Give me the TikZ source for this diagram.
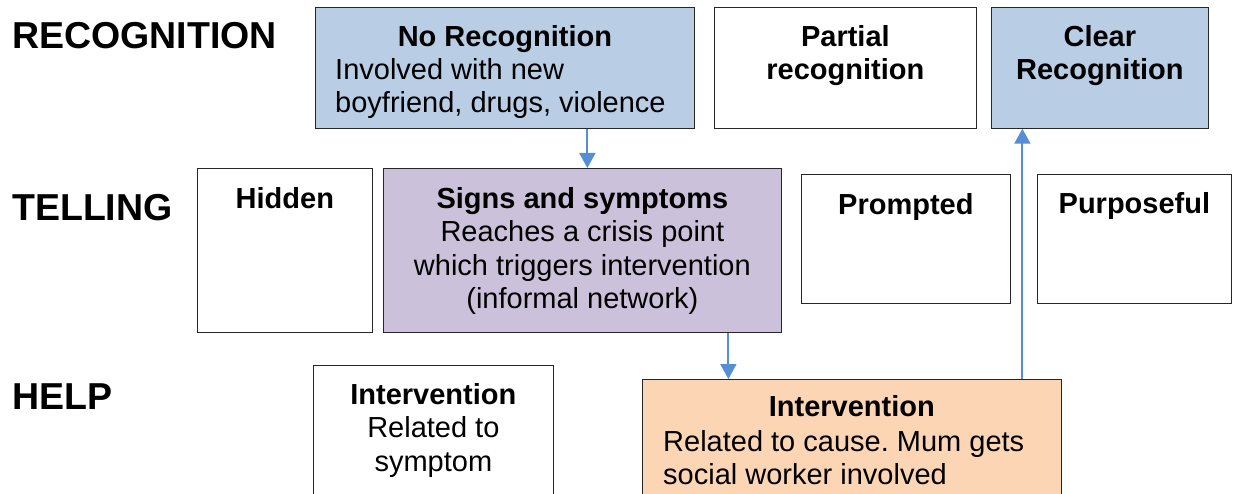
\documentclass[tikz,border=0pt]{standalone}
\usepackage{fontspec}
\setmainfont{Liberation Sans}
\frenchspacing
\usetikzlibrary{arrows.meta}
\definecolor{recblue}{RGB}{185,205,229}
\definecolor{sympurple}{RGB}{204,193,218}
\definecolor{helporange}{RGB}{252,213,181}
\definecolor{arrblue}{RGB}{85,142,213}
\tikzset{
    box/.style={draw=black!85,line width=0.75pt,anchor=north west,inner sep=0pt},
    head/.style={font=\bfseries\fontsize{29}{33.5}\selectfont,inner sep=0pt,anchor=north,align=center},
    body/.style={font=\fontsize{29}{33.5}\selectfont,inner sep=0pt,anchor=north west,align=left},
    rowlabel/.style={font=\bfseries\fontsize{37.5}{40}\selectfont,inner sep=0pt,anchor=west},
    arr/.style={draw=arrblue,line width=2pt,-{Triangle[width=16pt,length=15pt]}}
}
\begin{document}
\begin{tikzpicture}[x=1pt,y=-1pt]
                \clip (0,0) rectangle (1234,494);
                \foreach \lab/\y in {RECOGNITION/36,TELLING/208,HELP/397}{
                    \node[rowlabel] (row\y) at (12,\y) {\lab};
                }
                % recognition row
                \node[box,fill=recblue,minimum width=379pt,minimum height=121pt] (nr) at (315,7) {};
                \node[box,minimum width=262pt,minimum height=121pt] (pr) at (714,7) {};
                \node[box,fill=recblue,minimum width=217pt,minimum height=121pt] (cr) at (991,7) {};
                \node[head] (nrt) at ([yshift=-18pt]nr.north) {No Recognition};
                \node[body] (nrb) at ([xshift=20pt,yshift=-51pt]nr.north west) {Involved with new\\boyfriend, drugs, violence};
                \node[head] (prt) at ([yshift=-18pt]pr.north) {Partial\\recognition};
                \node[head] (crt) at ([yshift=-18pt]cr.north) {Clear\\Recognition};
                % telling row
                \node[box,minimum width=175pt,minimum height=164pt] (hd) at (197,168) {};
                \node[box,fill=sympurple,minimum width=398pt,minimum height=164pt] (sg) at (383,168) {};
                \node[box,minimum width=209pt,minimum height=129pt] (pm) at (801,174) {};
                \node[box,minimum width=194pt,minimum height=129pt] (pp) at (1037,174) {};
                \node[head] (hdt) at ([yshift=-19pt]hd.north) {Hidden};
                \node[body,anchor=north,align=center] (sgt) at ([yshift=-19pt]sg.north)
                    {{\bfseries Signs and symptoms}\\Reaches a crisis point\\which triggers intervention\\(informal network)};
                \node[head] (pmt) at ([yshift=-19pt]pm.north) {Prompted};
                \node[head] (ppt) at ([yshift=-18pt]pp.north) {Purposeful};
                % help row
                \node[box,minimum width=240pt,minimum height=150pt] (iv) at (313,365) {};
                \node[box,fill=helporange,minimum width=419pt,minimum height=140pt] (io) at (642,379) {};
                \node[body,anchor=north,align=center] (ivt) at ([yshift=-18pt]iv.north)
                    {{\bfseries Intervention}\\Related to\\symptom};
                \node[head] (iot) at ([yshift=-16pt]io.north) {Intervention};
                \node[body] (iob) at ([xshift=21pt,yshift=-51pt]io.north west) {Related to cause. Mum gets\\social worker involved};
                % arrows
                \draw[arr] ([xshift=82.5pt]nr.south) -- ([xshift=82.5pt]nr.south |- sg.north);
                \draw[arr] ([xshift=146pt]sg.south) -- ([xshift=146pt]sg.south |- io.north);
                \draw[arr] ([xshift=-77.5pt]cr.south |- io.north) -- ([xshift=-77.5pt]cr.south);
\end{tikzpicture}
\end{document}
